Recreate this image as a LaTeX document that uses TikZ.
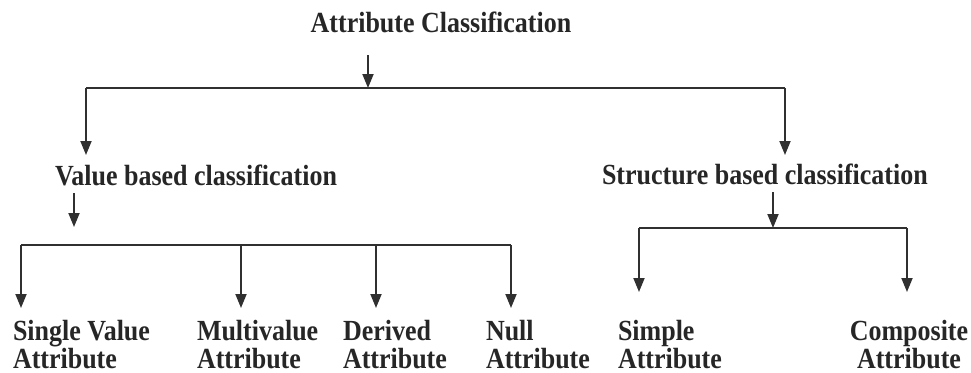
\documentclass[tikz,border=0pt]{standalone}
\usepackage{fontspec}
\setmainfont{Liberation Serif}[FakeStretch=0.89]
\usetikzlibrary{arrows.meta}
\definecolor{ink}{HTML}{262626}
\definecolor{wire}{HTML}{303030}
\begin{document}
\begin{tikzpicture}[x=0.5pt,y=-0.5pt,
  lbl/.style={inner sep=0pt, outer sep=0pt, text=ink,
    font=\fontsize{14.6}{13.6}\selectfont\bfseries},
  wirestyle/.style={draw=wire, line width=0.9pt},
  arr/.style={wirestyle, -{Triangle[width=5.5pt,length=7pt]}}]
\useasboundingbox (0,0) rectangle (971,372);
% labels
\node[lbl, anchor=base] (title) at (441,32) {Attribute Classification};
\node[lbl, anchor=base west] (value) at (55,185) {Value based classification};
\node[lbl, anchor=base west] (struct) at (602,184) {Structure based classification};
\node[lbl, anchor=base west, align=left] (single) at (13,368) {Single Value\\Attribute};
\node[lbl, anchor=base west, align=left] (multi) at (197,368) {Multivalue\\Attribute};
\node[lbl, anchor=base west, align=left] (derived) at (343,368) {Derived\\Attribute};
\node[lbl, anchor=base west, align=left] (null) at (486,368) {Null\\Attribute};
\node[lbl, anchor=base west, align=left] (simple) at (618,368) {Simple\\Attribute};
\node[lbl, anchor=base, align=center] (comp) at (909,368) {Composite\\Attribute};
% junction coordinates
\coordinate (t0) at (368,55);
\coordinate (j0) at (368,88);
\coordinate (jl) at (86,88);
\coordinate (jr) at (785,88);
\coordinate (tl) at (86,155);
\coordinate (tr) at (785,155);
\coordinate (v0) at (74,193);
\coordinate (v1) at (74,227);
\coordinate (va) at (21,245);
\coordinate (vb) at (241,245);
\coordinate (vc) at (376,245);
\coordinate (vd) at (511,245);
\coordinate (s0) at (773,192);
\coordinate (s1) at (773,228);
\coordinate (sa) at (639,228);
\coordinate (sb) at (907,228);
% top level
\draw[arr] (t0) -- (j0);
\draw[wirestyle] (jl) -- (jr);
\draw[arr] (jl) -- (tl);
\draw[arr] (jr) -- (tr);
% value branch
\draw[arr] (v0) -- (v1);
\draw[wirestyle] (va) -- (vd);
\draw[arr] (va) -- (va |- 0,308);
\draw[arr] (vb) -- (vb |- 0,308);
\draw[arr] (vc) -- (vc |- 0,308);
\draw[arr] (vd) -- (vd |- 0,308);
% structure branch
\draw[arr] (s0) -- (s1);
\draw[wirestyle] (sa) -- (sb);
\draw[arr] (sa) -- (sa |- 0,292);
\draw[arr] (sb) -- (sb |- 0,292);
\end{tikzpicture}
\end{document}
